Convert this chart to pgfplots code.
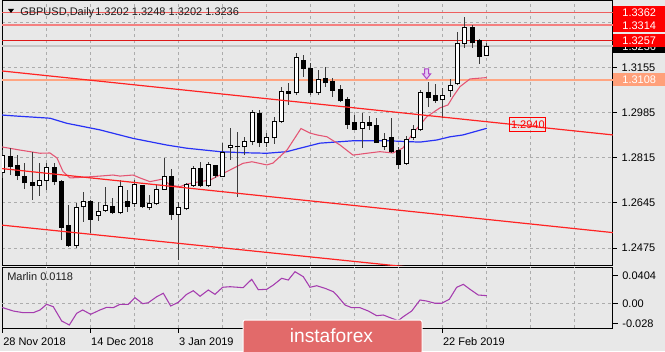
\documentclass[border=0pt]{standalone}
\usepackage{fontspec}
\setmainfont{Liberation Sans}
\usepackage{pgfplots}
\usepackage{pgfplotstable}
\pgfplotsset{compat=1.18}

\definecolor{bg}{RGB}{232,232,232}
\definecolor{gridc}{RGB}{172,172,172}
\definecolor{maP}{RGB}{228,85,115}
\definecolor{maB}{RGB}{40,50,245}
\definecolor{trend}{RGB}{255,35,35}
\definecolor{marlin}{RGB}{165,60,175}
\definecolor{lvlA}{RGB}{238,95,95}
\definecolor{lvlB}{RGB}{244,128,128}
\definecolor{lvlC}{RGB}{222,25,25}
\definecolor{lvlD}{RGB}{255,165,130}
\definecolor{boxred}{RGB}{255,0,0}
\definecolor{boxsal}{RGB}{255,160,122}
\definecolor{logo}{RGB}{226,106,106}
\definecolor{arrowc}{RGB}{175,70,200}
\definecolor{arrowf}{RGB}{228,205,242}
\definecolor{wick}{RGB}{60,60,60}
\definecolor{curp}{RGB}{198,198,198}

\pgfdeclareplotmark{dnarrow}{%
  \pgfpathmoveto{\pgfqpoint{-1.5pt}{3.75pt}}%
  \pgfpathlineto{\pgfqpoint{1.5pt}{3.75pt}}%
  \pgfpathlineto{\pgfqpoint{1.5pt}{0pt}}%
  \pgfpathlineto{\pgfqpoint{3pt}{0pt}}%
  \pgfpathlineto{\pgfqpoint{0pt}{-3.75pt}}%
  \pgfpathlineto{\pgfqpoint{-3pt}{0pt}}%
  \pgfpathlineto{\pgfqpoint{-1.5pt}{0pt}}%
  \pgfpathclose
  \pgfusepathqfillstroke
}

\newcommand\mt{\fontsize{8.25pt}{10pt}\selectfont}

% bullish candles: bar index, open, high, low, close
\pgfplotstableread{
i O H L C
0 1.2761 1.2844 1.2739 1.2825
5 1.2712 1.2795 1.2671 1.2729
6 1.2729 1.2795 1.2694 1.2780
10 1.2486 1.2645 1.2475 1.2627
11 1.2630 1.2686 1.2573 1.2652
13 1.2599 1.2650 1.2578 1.2614
14 1.2618 1.2706 1.2612 1.2637
16 1.2607 1.2731 1.2603 1.2705
18 1.2641 1.2731 1.2630 1.2716
20 1.2627 1.2675 1.2618 1.2641
21 1.2641 1.2712 1.2637 1.2697
22 1.2697 1.2814 1.2694 1.2744
24 1.2603 1.2650 1.2430 1.2627
25 1.2622 1.2720 1.2618 1.2716
26 1.2712 1.2784 1.2705 1.2776
28 1.2709 1.2800 1.2705 1.2788
30 1.2744 1.2871 1.2742 1.2834
31 1.2852 1.2927 1.2807 1.2863
33 1.2856 1.2895 1.2825 1.2878
34 1.2876 1.2995 1.2863 1.2984
36 1.2871 1.2908 1.2856 1.2890
37 1.2890 1.2970 1.2867 1.2951
38 1.2951 1.3083 1.2946 1.3064
40 1.3059 1.3211 1.3051 1.3191
43 1.3059 1.3146 1.3051 1.3108
49 1.2927 1.2984 1.2852 1.2947
52 1.2856 1.2909 1.2844 1.2882
55 1.2795 1.2897 1.2788 1.2882
56 1.2890 1.2938 1.2882 1.2920
57 1.2920 1.3070 1.2917 1.3059
60 1.3033 1.3078 1.2965 1.3051
61 1.3068 1.3112 1.3045 1.3089
62 1.3093 1.3290 1.3089 1.3247
63 1.3247 1.3346 1.3229 1.3304
66 1.3202 1.3248 1.3202 1.3236
}\up

% bearish candles
\pgfplotstableread{
i O H L C
1 1.2819 1.2852 1.2750 1.2781
2 1.2784 1.2825 1.2731 1.2750
3 1.2746 1.2795 1.2697 1.2720
4 1.2721 1.2838 1.2656 1.2712
7 1.2780 1.2795 1.2712 1.2724
8 1.2724 1.2731 1.2505 1.2554
9 1.2558 1.2637 1.2479 1.2483
12 1.2650 1.2656 1.2532 1.2584
15 1.2633 1.2663 1.2603 1.2607
17 1.2652 1.2694 1.2611 1.2633
19 1.2709 1.2712 1.2626 1.2630
23 1.2744 1.2773 1.2581 1.2603
27 1.2773 1.2800 1.2706 1.2712
29 1.2784 1.2788 1.2739 1.2750
32 1.2859 1.2913 1.2668 1.2856
35 1.2980 1.2995 1.2856 1.2871
39 1.3064 1.3097 1.3014 1.3058
41 1.3183 1.3202 1.3120 1.3153
42 1.3153 1.3172 1.3051 1.3059
44 1.3112 1.3158 1.3083 1.3097
45 1.3104 1.3115 1.3045 1.3070
46 1.3074 1.3089 1.3025 1.3029
47 1.3033 1.3045 1.2923 1.2942
48 1.2946 1.2976 1.2920 1.2923
50 1.2946 1.2972 1.2920 1.2938
51 1.2938 1.2965 1.2871 1.2872
53 1.2890 1.2965 1.2833 1.2838
54 1.2841 1.2857 1.2772 1.2788
58 1.3059 1.3102 1.3007 1.3043
59 1.3048 1.3093 1.3022 1.3030
64 1.3304 1.3315 1.3229 1.3248
65 1.3256 1.3262 1.3168 1.3198
}\down

\pgfplotstableread{
i p
-0.41 1.2857
2.32 1.2844
5.05 1.2832
6.41 1.2833
7.37 1.2814
8.19 1.2763
9.14 1.2739
10.5 1.2741
13.23 1.2746
15.0 1.2750
15.96 1.2746
17.74 1.2750
18.69 1.2739
20.05 1.2725
21.83 1.2735
22.78 1.2712
24.15 1.2706
25.1 1.2716
26.88 1.2725
28.24 1.2731
29.6 1.2750
30.97 1.2769
32.74 1.2794
33.97 1.2800
36.0 1.2788
36.83 1.2795
38.74 1.2844
40.65 1.2925
41.88 1.2908
42.84 1.2901
44.2 1.2894
45.98 1.2863
47.75 1.2825
49.66 1.2832
51.43 1.2838
53.2 1.2833
54.57 1.2852
55.93 1.2908
57.84 1.2970
59.62 1.3003
60.71 1.3014
61.39 1.3045
62.35 1.3083
63.71 1.3112
66.0 1.3117
}\maRed

\pgfplotstableread{
i p
-0.14 1.2976
1.87 1.2972
6.41 1.2964
8.69 1.2945
13.23 1.2920
17.74 1.2888
22.33 1.2863
25.06 1.2851
29.6 1.2838
32.74 1.2834
36.0 1.2832
38.74 1.2838
40.52 1.2851
43.25 1.2870
47.75 1.2879
52.39 1.2879
56.89 1.2874
59.2 1.2882
60.98 1.2894
62.76 1.2901
66.0 1.2926
}\maBlue

\pgfplotstableread{
i v
-0.18 -0.0049
1.41 -0.0102
2.77 -0.0126
4.13 -0.0126
5.05 -0.0087
5.96 -0.0006
6.86 -0.0040
8.01 -0.0245
9.05 -0.0302
10.05 -0.0135
10.87 -0.0087
11.96 -0.0149
13.23 -0.0087
14.15 -0.0049
15.05 -0.0054
15.96 -0.0006
17.09 -0.0006
18.0 0.0089
19.06 0.0003
19.82 0.0017
20.97 0.0103
21.87 0.0152
22.88 -0.0030
23.92 0.0023
25.06 0.0137
25.96 0.0189
26.88 0.0109
28.01 0.0199
28.92 0.0137
29.97 0.0238
30.97 0.0246
32.78 0.0232
33.93 0.0352
34.83 0.0203
35.98 0.0209
36.88 0.0270
38.02 0.0366
38.92 0.0342
39.84 0.0461
40.97 0.0389
41.88 0.0238
42.8 0.0260
43.93 0.0223
45.06 0.0175
45.52 0.0127
46.66 -0.0016
47.57 -0.0054
48.7 -0.0054
49.84 -0.0102
50.98 -0.0169
51.88 -0.0159
53.03 -0.0206
53.93 -0.0240
54.61 -0.0183
55.76 -0.0102
56.89 0.0056
57.8 0.0041
58.94 0.0009
59.85 0.0009
60.89 0.0066
61.9 0.0238
62.8 0.0280
63.71 0.0209
64.84 0.0127
66.0 0.0118
}\marlin

\begin{document}
\begin{tikzpicture}
\clip (0,0) rectangle (498.75pt,263.25pt);
\fill[bg] (0,0) rectangle (498.75pt,263.25pt);

% ---------------- main price panel ----------------
\begin{axis}[
  at={(1.5pt,64.5pt)}, anchor=south west,
  width=458.25pt, height=198.75pt, scale only axis,
  xmin=-0.136, xmax=83.22, ymin=1.2411, ymax=1.34093,
  scaled y ticks=false, scaled x ticks=false,
  axis line style={black, line width=0.75pt},
  xtick={0,6,...,78}, xticklabels={}, x tick style={draw=none},
  ytick={1.2475,1.2645,1.2815,1.2985,1.3155,1.3325},
  yticklabels={1.2475,1.2645,1.2815,1.2985,1.3155,{}},
  ytick pos=right, yticklabel pos=right,
  tick align=outside, major tick length=3pt,
  y tick style={black, line width=0.75pt},
  xmajorgrids, ymajorgrids,
  grid style={gridc, line width=0.75pt, dash pattern=on 2.25pt off 2.25pt},
  ticklabel style={font=\mt, text=black},
  clip mode=individual,
]
% current price line
\addplot[curp, line width=1.5pt, forget plot] coordinates {(-1,1.3236) (84,1.3236)};
% horizontal levels
\addplot[lvlD, line width=1.5pt] coordinates {(-1,1.3108) (84,1.3108)};
\addplot[lvlA, line width=1.1pt] coordinates {(-1,1.3362) (84,1.3362)};
\addplot[lvlB, line width=1.5pt] coordinates {(-1,1.3314) (84,1.3314)};
\addplot[lvlC, line width=0.8pt] coordinates {(-1,1.3257) (84,1.3257)};
% moving averages
\addplot[maB, line width=0.9pt] table[x=i,y=p] {\maBlue};
\addplot[maP, line width=0.8pt] table[x=i,y=p] {\maRed};
% wicks
\addplot[draw=none, mark=none, error bars/.cd, y dir=plus, y explicit, error mark=none,
  error bar style={draw=wick, line width=0.75pt}]
  table[x=i, y=L, y error expr={\thisrow{H}-\thisrow{L}}] {\up};
\addplot[draw=none, mark=none, error bars/.cd, y dir=plus, y explicit, error mark=none,
  error bar style={draw=wick, line width=0.75pt}]
  table[x=i, y=L, y error expr={\thisrow{H}-\thisrow{L}}] {\down};
% bearish bodies
\addplot[draw=none, mark=none, error bars/.cd, y dir=plus, y explicit, error mark=none,
  error bar style={draw=black, line width=3.75pt}]
  table[x=i, y expr={\thisrow{C}-0.00019}, y error expr={\thisrow{O}-\thisrow{C}+0.00038}] {\down};
% bullish bodies: outline then white inside
\addplot[draw=none, mark=none, error bars/.cd, y dir=plus, y explicit, error mark=none,
  error bar style={draw=black, line width=3.75pt}]
  table[x=i, y expr={\thisrow{O}-0.00019}, y error expr={\thisrow{C}-\thisrow{O}+0.00038}] {\up};
\addplot[draw=none, mark=none, error bars/.cd, y dir=plus, y explicit, error mark=none,
  error bar style={draw=white, line width=2.25pt}]
  table[x=i, y expr={\thisrow{O}+0.00019}, y error expr={max(\thisrow{C}-\thisrow{O}-0.00038,0)}] {\up};
% trend channel
\addplot[trend, line width=0.9pt] coordinates {(-0.14,1.3142) (83.22,1.2901)};
\addplot[trend, line width=0.9pt] coordinates {(-0.41,1.2775) (83.22,1.2533)};
\addplot[trend, line width=0.9pt] coordinates {(-0.41,1.2562) (83.22,1.2324)};
% arrow signal
\addplot[only marks, mark=dnarrow, mark options={draw=arrowc, fill=arrowf, line width=0.75pt}]
  coordinates {(57.8,1.3131)};
% price labels at right
\node[fill=black, text=white, font=\mt, anchor=west, inner sep=0pt, minimum width=39pt, minimum height=9.75pt] at (axis cs:83.22,1.3233) {1.3236};
\node[fill=boxred, text=white, font=\mt, anchor=west, inner sep=0pt, minimum width=39pt, minimum height=9.75pt] at (axis cs:83.22,1.3257) {1.3257};
\node[fill=boxred, text=white, font=\mt, anchor=west, inner sep=0pt, minimum width=39pt, minimum height=9.75pt] at (axis cs:83.22,1.3314) {1.3314};
\node[fill=boxred, text=white, font=\mt, anchor=west, inner sep=0pt, minimum width=39pt, minimum height=9.75pt] at (axis cs:83.22,1.3362) {1.3362};
\node[fill=boxsal, text=white, font=\mt, anchor=west, inner sep=0pt, minimum width=39pt, minimum height=9.75pt] at (axis cs:83.22,1.3108) {1.3108};
\node[draw=boxred, text=boxred, font=\mt, line width=0.75pt, inner xsep=1pt, inner ysep=0pt, minimum height=11pt] at (axis cs:71.6,1.2940) {1.2940};
\end{axis}

% ---------------- Marlin sub panel ----------------
\begin{axis}[
  at={(1.5pt,17.25pt)}, anchor=south west,
  width=458.25pt, height=45.75pt, scale only axis,
  xmin=-0.136, xmax=83.22, ymin=-0.0345, ymax=0.0528,
  scaled y ticks=false, scaled x ticks=false,
  axis line style={black, line width=0.75pt},
  xtick={0,12,24,60},
  xticklabels={28 Nov 2018,14 Dec 2018,3 Jan 2019,22 Feb 2019},
  xtick pos=bottom,
  extra x ticks={6,18,30,36,42,48,54,66,72,78},
  extra x tick labels={},
  extra x tick style={major tick length=0pt},
  ytick={-0.028,0.0404}, yticklabels={-0.028,0.0404},
  extra y ticks={0}, extra y tick labels={0.00},
  extra y tick style={ymajorgrids=true},
  ytick pos=right, yticklabel pos=right,
  tick align=outside, major tick length=3.5pt,
  tick style={black, line width=0.75pt},
  xmajorgrids,
  grid style={gridc, line width=0.75pt, dash pattern=on 2.25pt off 2.25pt},
  ticklabel style={font=\mt, text=black},
  xticklabel style={anchor=north west, inner xsep=0pt},
  clip mode=individual,
]
\addplot[marlin, line width=0.8pt] table[x=i,y=v] {\marlin};
\end{axis}

% ---------------- texts and logo ----------------
\fill[black] (6pt,256.5pt) -- (10.5pt,256.5pt) -- (8.25pt,253.5pt) -- cycle;
\node[anchor=base west, inner sep=0pt, font=\mt, text={rgb,255:red,30;green,30;blue,30}] at (15pt,251.25pt) {GBPUSD,Daily};
\node[anchor=base west, inner sep=0pt, font=\mt, text={rgb,255:red,30;green,30;blue,30}] at (71.25pt,251.25pt) {1.3202 1.3248 1.3202 1.3236};
\node[anchor=base west, inner sep=0pt, font=\mt, text={rgb,255:red,30;green,30;blue,30}] at (5.25pt,52.5pt) {Marlin 0.0118};
\filldraw[fill=logo, draw=white, line width=0.75pt, rounded corners=1.5pt] (182.25pt,-2pt) rectangle (316.5pt,23.25pt);
\node[anchor=base, inner sep=0pt, text=white, font=\fontsize{14.4pt}{16pt}\selectfont] at (248.6pt,6.75pt) {instaforex};
\end{tikzpicture}
\end{document}
